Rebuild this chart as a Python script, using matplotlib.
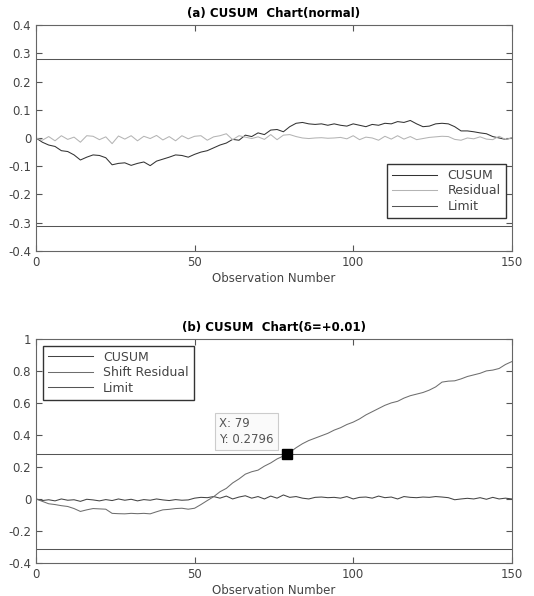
import numpy as np
import matplotlib
matplotlib.use('Agg')
import matplotlib.pyplot as plt

plt.rcParams['font.family'] = ['DejaVu Sans']

obs = np.arange(0, 151, 2)

# (a) normal
cusum_a = [0, -0.015, -0.025, -0.03, -0.045, -0.048, -0.06, -0.078, -0.068, -0.06,
           -0.062, -0.07, -0.095, -0.09, -0.088, -0.097, -0.09, -0.085, -0.098, -0.082,
           -0.075, -0.068, -0.06, -0.062, -0.068, -0.058, -0.05, -0.045, -0.035, -0.025,
           -0.018, -0.005, -0.008, 0.01, 0.005, 0.018, 0.012, 0.028, 0.03, 0.022,
           0.04, 0.052, 0.055, 0.05, 0.048, 0.05, 0.045, 0.05, 0.045, 0.042,
           0.05, 0.045, 0.04, 0.048, 0.045, 0.052, 0.05, 0.058, 0.055, 0.062,
           0.05, 0.04, 0.042, 0.05, 0.052, 0.05, 0.04, 0.025, 0.025, 0.022,
           0.018, 0.015, 0.005, 0.0, -0.005, 0.0]
resid_a = [0, -0.008, 0.005, -0.01, 0.008, -0.005, 0.003, -0.015, 0.008, 0.006,
           -0.006, 0.004, -0.02, 0.007, -0.004, 0.008, -0.01, 0.006, -0.002, 0.009,
           -0.007, 0.005, -0.01, 0.008, -0.003, 0.006, 0.008, -0.008, 0.004, 0.008,
           0.015, -0.006, 0.008, 0.003, -0.002, 0.004, -0.005, 0.012, -0.006, 0.01,
           0.012, 0.005, 0.0, -0.002, 0.0, 0.001, -0.001, 0.0, 0.002, -0.003,
           0.008, -0.006, 0.003, 0.0, -0.008, 0.006, -0.004, 0.008, -0.004, 0.005,
           -0.006, -0.002, 0.002, 0.004, 0.006, 0.005, -0.005, -0.008, 0.0, -0.003,
           0.004, -0.004, -0.006, 0.006, -0.005, 0.0]

# (b) shift +0.01
cusum_b = [0, -0.015, -0.03, -0.035, -0.042, -0.047, -0.06, -0.078, -0.068, -0.06,
           -0.062, -0.064, -0.09, -0.092, -0.093, -0.09, -0.092, -0.09, -0.093, -0.08,
           -0.068, -0.065, -0.06, -0.058, -0.064, -0.058, -0.035, -0.01, 0.014, 0.045,
           0.066, 0.1, 0.125, 0.155, 0.17, 0.18, 0.205, 0.225, 0.25, 0.268,
           0.291, 0.32, 0.345, 0.365, 0.38, 0.395, 0.41, 0.43, 0.445, 0.465,
           0.48, 0.5, 0.525, 0.545, 0.565, 0.585, 0.6, 0.61, 0.63, 0.645,
           0.655, 0.665, 0.68, 0.7, 0.73, 0.736, 0.738, 0.75, 0.765, 0.775,
           0.785, 0.8, 0.805, 0.815, 0.84, 0.858]
resid_b = [0, -0.01, -0.005, -0.012, 0.0, -0.008, -0.005, -0.015, -0.002, -0.006,
           -0.012, -0.004, -0.01, 0.0, -0.008, -0.002, -0.012, -0.004, -0.008, 0.0,
           -0.006, -0.01, -0.004, -0.008, -0.006, 0.005, 0.01, 0.008, 0.015, 0.005,
           0.018, 0.0, 0.012, 0.02, 0.005, 0.015, 0.0, 0.018, 0.005, 0.025,
           0.01, 0.015, 0.005, 0.0, 0.01, 0.012, 0.008, 0.01, 0.005, 0.015,
           0.0, 0.01, 0.012, 0.005, 0.018, 0.008, 0.012, 0.0, 0.015, 0.01,
           0.008, 0.012, 0.01, 0.015, 0.012, 0.008, -0.005, 0.0, 0.004, 0.0,
           0.008, -0.002, 0.01, 0.0, 0.005, 0.0]

upper_lim = 0.28
lower_lim = -0.31
tip_x, tip_y = 79, 0.2796

fig = plt.figure(figsize=(5.34, 5.96), dpi=100)
ax1 = fig.add_axes([0.0674, 0.579, 0.891, 0.379])
ax2 = fig.add_axes([0.0674, 0.0554, 0.891, 0.376])

fs = 8.5
for ax in (ax1, ax2):
    ax.set_xlim(0, 150)
    ax.set_xticks([0, 50, 100, 150])
    ax.tick_params(direction='in', top=True, right=True, length=4,
                   labelsize=fs, colors='#555555', labelcolor='#444444')
    for s in ax.spines.values():
        s.set_color('#666666')
    ax.set_xlabel('Observation Number', fontsize=fs, color='#444444', labelpad=2)

# top
ax1.plot(obs, cusum_a, color='#333333', lw=0.75, label='CUSUM')
ax1.plot(obs, resid_a, color='#b4b4b4', lw=0.75, label='Residual')
ax1.axhline(upper_lim, color='#555555', lw=0.75, label='Limit')
ax1.axhline(lower_lim, color='#555555', lw=0.75)
ax1.set_ylim(-0.4, 0.4)
yt1 = np.round(np.arange(-0.4, 0.41, 0.1), 1)
ax1.set_yticks(yt1)
ax1.set_yticklabels(['0' if v == 0 else f'{v:g}' for v in yt1])
ax1.set_title('(a) CUSUM  Chart(normal)', fontsize=fs, fontweight='bold', pad=6)
leg1 = ax1.legend(loc='lower right', bbox_to_anchor=(0.987, 0.146), borderaxespad=0,
                  fancybox=False, fontsize=fs + 0.5, handlelength=3.6,
                  labelspacing=0.2, framealpha=1, labelcolor='#444444')
leg1.get_frame().set_edgecolor('#333333')

# bottom
ax2.plot(obs, resid_b, color='#444444', lw=0.75, label='CUSUM')
ax2.plot(obs, cusum_b, color='#6e6e6e', lw=0.75, label='Shift Residual')
ax2.axhline(upper_lim, color='#555555', lw=0.75, label='Limit')
ax2.axhline(lower_lim, color='#555555', lw=0.75)
ax2.set_ylim(-0.4, 1.0)
yt2 = np.round(np.arange(-0.4, 1.01, 0.2), 1)
ax2.set_yticks(yt2)
ax2.set_yticklabels(['0' if v == 0 else f'{v:g}' for v in yt2])
ax2.set_title('(b) CUSUM  Chart(δ=+0.01)', fontsize=fs, fontweight='bold', pad=6)
leg2 = ax2.legend(loc='upper left', bbox_to_anchor=(0.0147, 0.969), borderaxespad=0,
                  fancybox=False, fontsize=fs + 0.5, handlelength=3.6,
                  labelspacing=0.2, framealpha=1, labelcolor='#444444')
leg2.get_frame().set_edgecolor('#333333')

ax2.plot([tip_x], [tip_y], marker='s', color='black', markersize=7, zorder=5)
ax2.text(57.8, 0.42, f'X: {tip_x}\nY: {tip_y}', fontsize=fs, color='#555555',
         va='center', ha='left', linespacing=1.3,
         bbox=dict(boxstyle='square,pad=0.35', facecolor='#fafafa',
                   edgecolor='#cccccc', lw=0.8))

fig.savefig('out.png', dpi=100)
